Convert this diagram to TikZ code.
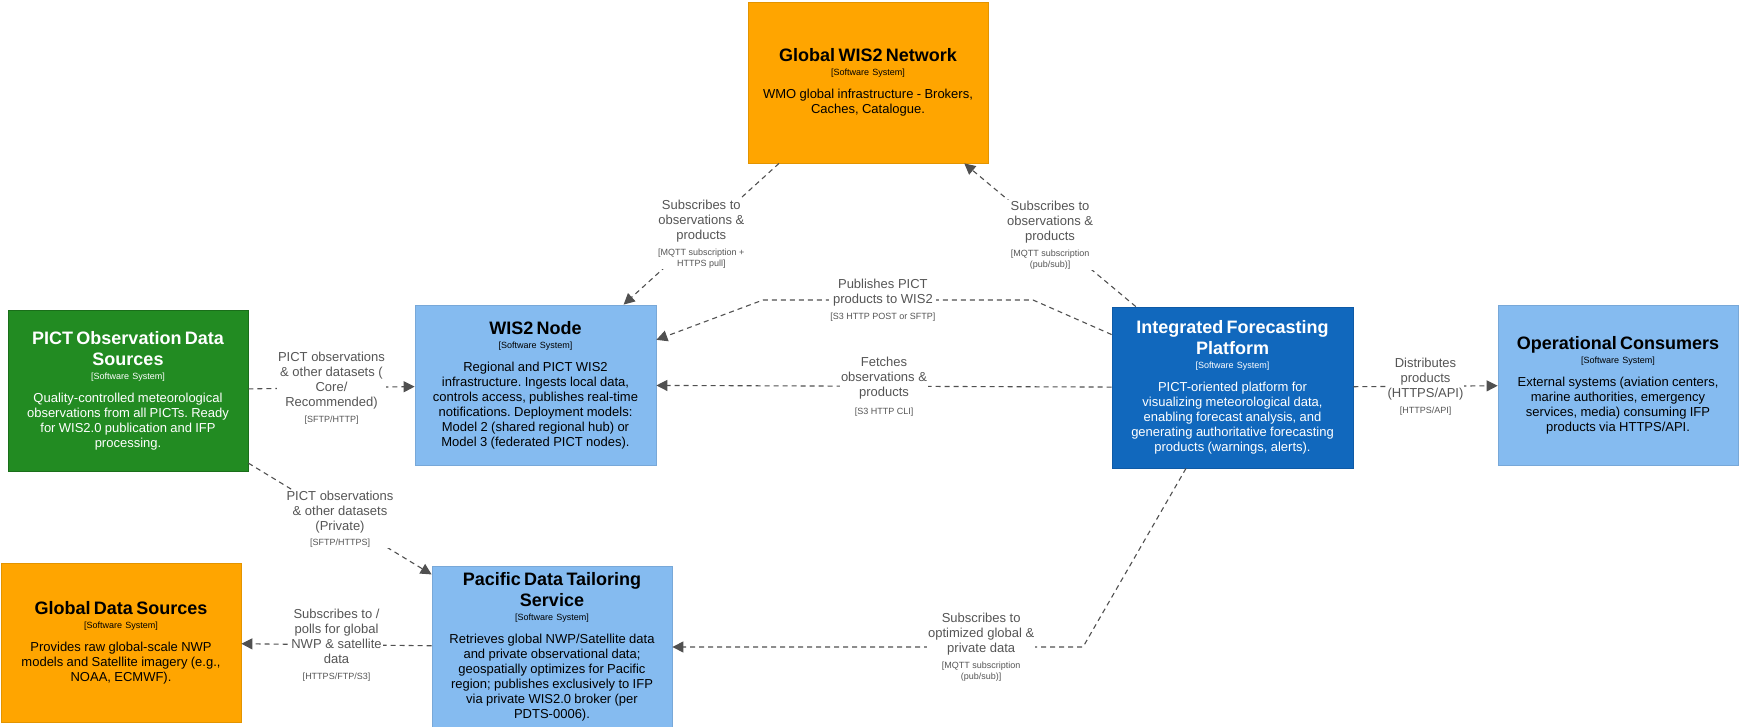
\documentclass[tikz,border=0pt]{standalone}
\usepackage{fontspec}
\setmainfont{Liberation Sans}
\usetikzlibrary{arrows.meta}
\setlength{\parindent}{0pt}
\frenchspacing

\definecolor{extorange}{HTML}{FFA500}
\definecolor{extorangeline}{HTML}{E39400}
\definecolor{obsgreen}{HTML}{228B22}
\definecolor{obsgreenline}{HTML}{1A6E1A}
\definecolor{lightsys}{HTML}{85BBF0}
\definecolor{lightsysline}{HTML}{78A8D8}
\definecolor{coresys}{HTML}{1168BD}
\definecolor{coresysline}{HTML}{0E5AA6}
\definecolor{linkgray}{HTML}{505050}
\definecolor{labelgray}{HTML}{555555}

\newcommand\ttlfont{\fontsize{18}{21}\selectfont\bfseries}
\newcommand\typfont{\normalfont\fontsize{9}{11}\selectfont}
\newcommand\dscfont{\fontsize{13}{15}\selectfont}
\newcommand\techfont{\fontsize{9}{11}\selectfont}
% system box body: title, type line, description
\newcommand\sysbody[2]{\ttlfont #1\par\vspace{3pt}\typfont [Software System]\par\vspace{8pt}\dscfont #2\par}

\tikzset{
  sys/.style={rectangle, line width=0.8pt, minimum width=240pt, minimum height=160pt,
    text width=228pt, inner sep=6pt, align=center},
  sysorange/.style={sys, fill=extorange, draw=extorangeline, text=black},
  sysgreen/.style={sys, fill=obsgreen, draw=obsgreenline, text=white},
  syslight/.style={sys, fill=lightsys, draw=lightsysline, text=black},
  syscore/.style={sys, fill=coresys, draw=coresysline, text=white},
  link/.style={draw=linkgray, line width=1.1pt, dash pattern=on 5pt off 4pt,
    -{Triangle[length=11pt,width=11pt,fill=linkgray]}},
  elabel/.style={fill=white, inner sep=1pt, align=center, text=labelgray,
    font=\fontsize{13}{15}\selectfont}
}

\begin{document}
\begin{tikzpicture}[x=1pt, y=-1pt]
\useasboundingbox (0,0) rectangle (1740,727);

% systems
\node[sysorange, minimum height=161pt] (global) at (868,82.5)
  {\sysbody{Global WIS2 Network}{WMO global infrastructure - Brokers,\\Caches, Catalogue.}};
\node[sysgreen, minimum height=161pt] (pict) at (128,390.5)
  {\sysbody{PICT Observation Data\\Sources}{Quality-controlled meteorological\\observations from all PICTs. Ready\\for WIS2.0 publication and IFP\\processing.}};
\node[syslight, minimum width=241pt] (wis2) at (535.5,385)
  {\sysbody{WIS2 Node}{Regional and PICT WIS2\\infrastructure. Ingests local data,\\controls access, publishes real-time\\notifications. Deployment models:\\Model 2 (shared regional hub) or\\Model 3 (federated PICT nodes).}};
\node[syscore, minimum width=241pt, minimum height=161pt] (ifp) at (1232.5,387.5)
  {\sysbody{Integrated Forecasting\\Platform}{PICT-oriented platform for\\visualizing meteorological data,\\enabling forecast analysis, and\\generating authoritative forecasting\\products (warnings, alerts).}};
\node[syslight] (opc) at (1618,385)
  {\sysbody{Operational Consumers}{External systems (aviation centers,\\marine authorities, emergency\\services, media) consuming IFP\\products via HTTPS/API.}};
\node[sysorange, minimum height=159pt] (gds) at (121,642.5)
  {\sysbody{Global Data Sources}{Provides raw global-scale NWP\\models and Satellite imagery (e.g.,\\NOAA, ECMWF).}};
\node[syslight] (pdts) at (552,647)
  {\sysbody{Pacific Data Tailoring\\Service}{Retrieves global NWP/Satellite data\\and private observational data;\\geospatially optimizes for Pacific\\region; publishes exclusively to IFP\\via private WIS2.0 broker (per\\PDTS-0006).}};

% bend points of routed connectors
\coordinate (pubA) at (1033,300);
\coordinate (pubB) at (763,300);
\coordinate (optA) at (1083,647);

% relationships
\draw[link] (global) -- (wis2)
  node[elabel, pos=0.5] {Subscribes to\\observations \&\\products\\[1pt]\techfont [MQTT subscription +\\[-4pt]\techfont HTTPS pull]};
\draw[link] (ifp) -- (global)
  node[elabel, pos=0.5] {Subscribes to\\observations \&\\products\\[1pt]\techfont [MQTT subscription\\[-4pt]\techfont (pub/sub)]};
\draw[link] (ifp) -- (pubA) -- (pubB)
  node[elabel, pos=0.556] {Publishes PICT\\products to WIS2\\[1pt]\techfont [S3 HTTP POST or SFTP]}
  -- (wis2);
\draw[link] (ifp) -- (wis2)
  node[elabel, pos=0.5] {Fetches\\observations \&\\products\\[3pt]\techfont [S3 HTTP CLI]};
\draw[link] (pict) -- (wis2)
  node[elabel, pos=0.5] {PICT observations\\\& other datasets (\\Core/\\Recommended)\\[1pt]\techfont [SFTP/HTTP]};
\draw[link] (pict) -- (pdts)
  node[elabel, pos=0.5] {PICT observations\\\& other datasets\\(Private)\\[0pt]\techfont [SFTP/HTTPS]};
\draw[link] (pdts) -- (gds)
  node[elabel, pos=0.5] {Subscribes to /\\polls for global\\NWP \& satellite\\data\\[1pt]\techfont [HTTPS/FTP/S3]};
\draw[link] (ifp) -- (optA) -- (pdts)
  node[elabel, pos=0.248] {Subscribes to\\optimized global \&\\private data\\[1pt]\techfont [MQTT subscription\\[-4pt]\techfont (pub/sub)]};
\draw[link] (ifp) -- (opc)
  node[elabel, pos=0.5] {Distributes\\products\\(HTTPS/API)\\[1pt]\techfont [HTTPS/API]};
\end{tikzpicture}
\end{document}
